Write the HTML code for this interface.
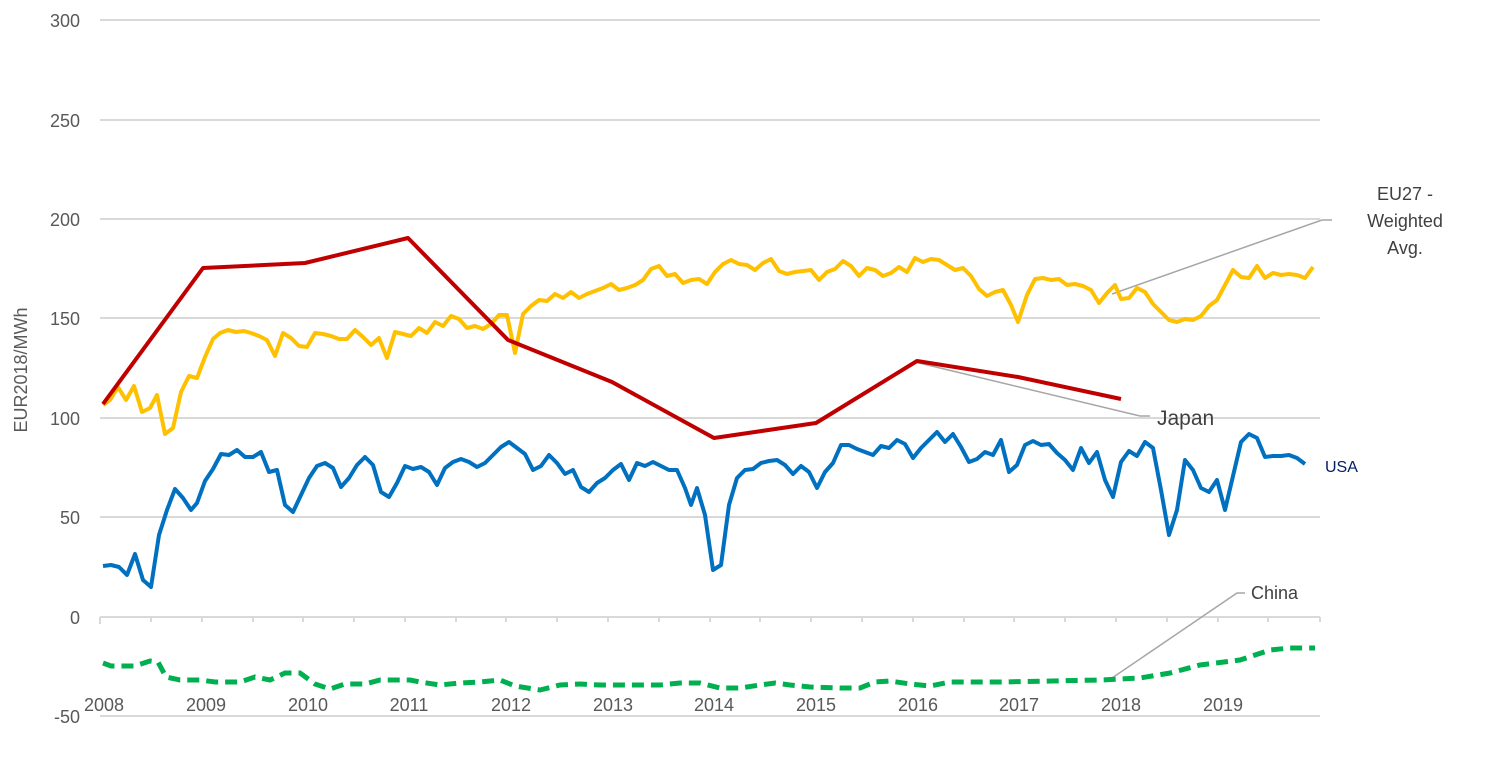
<!DOCTYPE html>
<html><head><meta charset="utf-8"><style>
body{margin:0;background:#fff;}
svg{display:block;font-family:"Liberation Sans",sans-serif;}
</style></head><body>
<svg width="1485" height="766" viewBox="0 0 1485 766">
<g stroke="#d9d9d9" stroke-width="2">
<line x1="100" y1="20" x2="1320" y2="20"/><line x1="100" y1="120" x2="1320" y2="120"/>
<line x1="100" y1="219" x2="1320" y2="219"/><line x1="100" y1="318" x2="1320" y2="318"/>
<line x1="100" y1="418" x2="1320" y2="418"/><line x1="100" y1="517" x2="1320" y2="517"/>
<line x1="100" y1="617" x2="1320" y2="617"/><line x1="100" y1="716" x2="1320" y2="716"/>
<path d="M100 617v7M151 617v5M202 617v5M253 617v5M303 617v5M354 617v5M405 617v5M456 617v5M506 617v5M557 617v5M608 617v5M659 617v5M710 617v5M760 617v5M811 617v5M862 617v5M913 617v5M964 617v5M1014 617v5M1065 617v5M1116 617v5M1167 617v5M1218 617v5M1268 617v5M1320 617v5"/>
</g>
<g fill="#595959" font-size="18" text-anchor="end">
<text x="80" y="27">300</text><text x="80" y="127">250</text><text x="80" y="226">200</text>
<text x="80" y="325">150</text><text x="80" y="425">100</text><text x="80" y="524">50</text>
<text x="80" y="624">0</text><text x="80" y="723">-50</text>
</g>
<g fill="#595959" font-size="18" text-anchor="middle">
<text x="104" y="711">2008</text><text x="206" y="711">2009</text><text x="308" y="711">2010</text>
<text x="409" y="711">2011</text><text x="511" y="711">2012</text><text x="613" y="711">2013</text>
<text x="714" y="711">2014</text><text x="816" y="711">2015</text><text x="918" y="711">2016</text>
<text x="1019" y="711">2017</text><text x="1121" y="711">2018</text><text x="1223" y="711">2019</text>
</g>
<text transform="translate(27,370) rotate(-90)" fill="#595959" font-size="18" text-anchor="middle">EUR2018/MWh</text>
<g fill="none" stroke="#a6a6a6" stroke-width="1.5">
<polyline points="1112,294 1322,220 1332,220"/>
<polyline points="915,362 1140,416 1150,416"/>
<polyline points="1112,678 1237,593 1245,593"/>
</g>
<polyline fill="none" stroke="#00b050" stroke-width="5" stroke-dasharray="12,7" points="103,663 111,666 135,666 150,661 158,662 166,677 180,680 200,680 215,682 240,682 255,677 270,680 285,673 300,673 315,684 330,689 345,684 365,684 380,680 400,680 410,680 420,682 440,685 460,683 480,682 500,680 515,686 540,690 560,685 580,684 600,685 620,685 660,685 680,683 700,683 720,688 740,688 760,685 775,683 790,685 810,687 840,688 860,688 875,682 890,681 910,684 930,686 950,682 1000,682 1100,680 1140,678 1170,673 1200,665 1240,660 1270,650 1290,648 1315,648"/>
<polyline fill="none" stroke="#0070c0" stroke-width="4" stroke-linejoin="round" points="103,566 111,565 119,567 127,575 135,554 143,580 151,587 159,535 167,510 175,489 183,498 191,510 197,503 205,481 213,469 221,454 229,455 237,450 245,457 253,457 261,452 269,472 277,470 285,505 293,512 301,495 309,478 317,466 325,463 333,468 341,487 349,478 357,465 365,457 373,465 381,492 389,497 397,483 405,466 413,469 421,467 429,472 437,485 445,468 453,462 461,459 469,462 477,467 485,463 493,455 501,447 509,442 517,448 525,454 533,470 541,466 549,455 557,463 565,474 573,470 581,487 589,492 597,483 605,478 613,470 621,464 629,480 637,463 645,466 653,462 661,466 669,470 677,470 685,488 691,505 697,488 705,515 713,570 721,565 729,505 737,478 745,470 753,469 761,463 769,461 777,460 785,465 793,474 801,466 809,472 817,488 825,472 833,463 841,445 849,445 857,449 865,452 873,455 881,446 889,448 897,440 905,444 913,458 921,448 929,440 937,432 945,442 953,434 961,447 969,462 977,459 985,452 993,455 1001,440 1009,472 1017,465 1025,445 1033,441 1041,445 1049,444 1057,453 1065,460 1073,470 1081,448 1089,463 1097,452 1105,480 1113,497 1121,462 1129,451 1137,456 1145,442 1153,448 1161,490 1169,535 1177,510 1185,460 1193,470 1201,488 1209,492 1217,480 1225,510 1233,476 1241,442 1249,434 1257,438 1265,457 1273,456 1281,456 1289,455 1297,458 1305,464"/>
<polyline fill="none" stroke="#ffc000" stroke-width="4" stroke-linejoin="round" points="103,405 110,400 118,387 126,400 134,386 142,412 150,408 157,395 165,434 173,428 181,392 189,376 197,378 205,357 213,339 220,333 228,330 236,332 244,331 251,333 259,336 267,340 275,356 283,333 291,338 299,346 307,347 315,333 323,334 331,336 339,339 347,339 355,330 363,337 371,345 379,338 387,358 395,332 403,334 411,336 419,328 427,333 435,322 443,326 451,316 459,319 467,328 475,326 483,329 491,324 499,315 507,315 515,353 523,314 531,306 539,300 547,301 555,294 563,298 571,292 579,298 587,294 595,291 603,288 611,284 619,290 627,288 635,285 643,280 651,269 659,266 667,276 675,274 683,283 691,280 699,279 707,284 715,272 723,264 731,260 739,264 747,265 755,270 763,263 771,259 779,271 787,274 795,272 803,271 811,270 819,280 827,272 835,269 843,261 851,266 859,276 867,268 875,270 883,276 891,273 899,267 907,272 915,258 923,262 931,259 939,260 947,265 955,270 963,268 971,276 979,289 987,296 995,292 1003,290 1011,305 1018,322 1027,295 1035,279 1043,278 1051,280 1059,279 1067,285 1075,284 1083,286 1091,290 1099,303 1107,293 1115,285 1121,299 1129,298 1137,288 1145,292 1153,304 1161,312 1169,320 1177,322 1185,319 1193,320 1201,316 1209,306 1217,300 1225,285 1233,270 1241,277 1249,278 1257,266 1265,278 1273,273 1281,275 1289,274 1297,275 1305,278 1313,267"/>
<polyline fill="none" stroke="#c00000" stroke-width="4" stroke-linejoin="round" points="103,404 203,268 305,263 408,238 508,340 612,382 714,438 816,423 917,361 1018,377 1121,399"/>
<g fill="#404040" font-size="18" text-anchor="middle">
<text x="1405" y="200">EU27 -</text><text x="1405" y="227">Weighted</text><text x="1405" y="254">Avg.</text>
</g>
<text x="1157" y="425" fill="#404040" font-size="21">Japan</text>
<text x="1325" y="472" fill="#002060" font-size="16">USA</text>
<text x="1251" y="599" fill="#404040" font-size="18">China</text>
</svg>
</body></html>
